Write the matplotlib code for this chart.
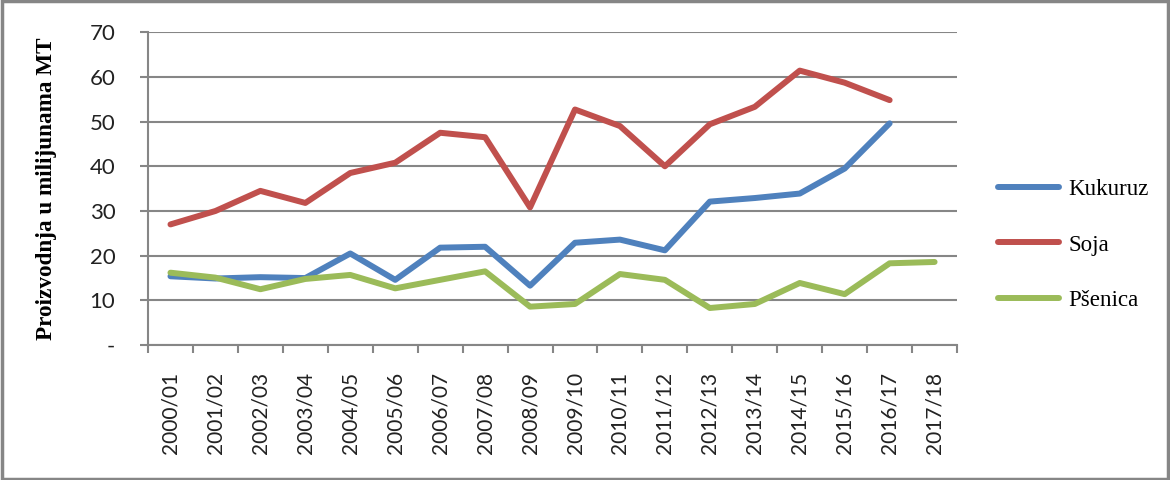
import matplotlib.pyplot as plt
from matplotlib.patches import Rectangle

years = ['2000/01', '2001/02', '2002/03', '2003/04', '2004/05', '2005/06',
         '2006/07', '2007/08', '2008/09', '2009/10', '2010/11', '2011/12',
         '2012/13', '2013/14', '2014/15', '2015/16', '2016/17', '2017/18']

kukuruz = [15.4, 14.9, 15.2, 15.0, 20.5, 14.6, 21.8, 22.0, 13.3, 22.9,
           23.6, 21.2, 32.1, 32.9, 33.9, 39.5, 49.6]
soja = [27.0, 30.0, 34.5, 31.8, 38.5, 40.8, 47.5, 46.5, 30.8, 52.7,
        49.0, 40.0, 49.4, 53.3, 61.4, 58.7, 54.8]
psenica = [16.2, 15.1, 12.5, 14.8, 15.7, 12.7, 14.6, 16.5, 8.6, 9.2,
           15.9, 14.6, 8.3, 9.2, 13.9, 11.4, 18.3, 18.6]

series = [('Kukuruz', kukuruz, '#4F81BD'),
          ('Soja', soja, '#C0504D'),
          ('Pšenica', psenica, '#9BBB59')]

serif = ['Liberation Serif', 'DejaVu Serif']
sans = ['Lato', 'DejaVu Sans']
grey = '#868686'

fig = plt.figure(figsize=(11.7, 4.8), dpi=100)
ax = fig.add_axes([0.1265, 0.281, 0.6915, 0.652])

for name, vals, col in series:
    ax.plot(range(len(vals)), vals, color=col, lw=4.3, label=name,
            solid_capstyle='round', solid_joinstyle='round')

ax.set_xlim(-0.5, len(years) - 0.5)
ax.set_ylim(0, 70)
ax.set_yticks(range(0, 71, 10))
ax.set_yticklabels(['-'] + [str(v) for v in range(10, 71, 10)],
                   fontfamily=sans, fontsize=16, color='#222222')
ax.set_xticks(range(len(years)))
ax.set_xticklabels(years, rotation=90, fontfamily=sans, fontsize=15,
                   color='#222222')
ax.set_xticks([i - 0.5 for i in range(len(years) + 1)], minor=True)
ax.tick_params(axis='x', which='major', length=0, pad=19)
ax.tick_params(axis='x', which='minor', length=5.5, width=1.5, color=grey)
ax.tick_params(axis='y', length=5.5, width=1.5, color=grey, pad=18)

ax.grid(axis='y', color=grey, lw=1.5)
ax.set_axisbelow(True)
for s in ['top', 'right']:
    ax.spines[s].set_visible(False)
for s in ['left', 'bottom']:
    ax.spines[s].set_color(grey)
    ax.spines[s].set_linewidth(1.5)

ax.set_ylabel('Proizvodnja u milijunama MT', fontfamily=serif,
              fontweight='bold', fontsize=16.7)
ax.yaxis.set_label_coords(-0.113, 0.5)

ax.legend(loc='center left', bbox_to_anchor=(1.051, 0.32), frameon=False,
          prop={'family': serif, 'size': 16.6}, handlelength=2.65,
          labelspacing=1.5, handletextpad=0.4, borderpad=0,
          borderaxespad=0)

fig.patches.append(Rectangle((0.002, 0.003), 0.996, 0.994,
                             transform=fig.transFigure, fill=False,
                             edgecolor=grey, lw=2.5))

fig.savefig('out.png', dpi=100)
